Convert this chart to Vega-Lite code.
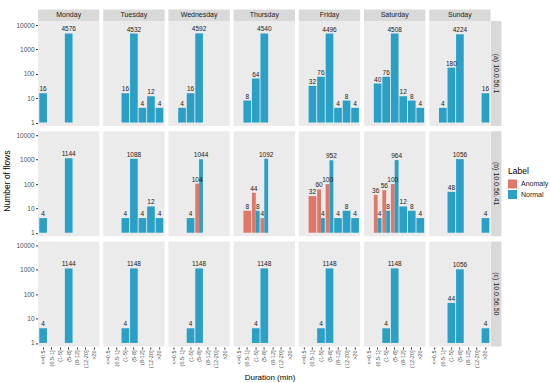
{
  "$schema": "https://vega.github.io/schema/vega-lite/v6.json",
  "padding": {"left": 2, "top": 9, "right": 2, "bottom": 0},
  "bounds": "flush",
  "spacing": {"row": 5.2, "column": 3.2},
  "data": {"values": [
    {"ip":"(a) 10.0.56.1","day":"Monday","dur":"<=0.5","label":"Normal","count":16},
    {"ip":"(a) 10.0.56.1","day":"Monday","dur":"(5-8]","label":"Normal","count":4576},
    {"ip":"(a) 10.0.56.1","day":"Tuesday","dur":"(1-5]","label":"Normal","count":16},
    {"ip":"(a) 10.0.56.1","day":"Tuesday","dur":"(5-8]","label":"Normal","count":4532},
    {"ip":"(a) 10.0.56.1","day":"Tuesday","dur":"(8-12]","label":"Normal","count":4},
    {"ip":"(a) 10.0.56.1","day":"Tuesday","dur":"(12-20]","label":"Normal","count":12},
    {"ip":"(a) 10.0.56.1","day":"Tuesday","dur":">20","label":"Normal","count":4},
    {"ip":"(a) 10.0.56.1","day":"Wednesday","dur":"(0.5-1]","label":"Normal","count":4},
    {"ip":"(a) 10.0.56.1","day":"Wednesday","dur":"(1-5]","label":"Normal","count":16},
    {"ip":"(a) 10.0.56.1","day":"Wednesday","dur":"(5-8]","label":"Normal","count":4592},
    {"ip":"(a) 10.0.56.1","day":"Thursday","dur":"(0.5-1]","label":"Normal","count":8},
    {"ip":"(a) 10.0.56.1","day":"Thursday","dur":"(1-5]","label":"Normal","count":64},
    {"ip":"(a) 10.0.56.1","day":"Thursday","dur":"(5-8]","label":"Normal","count":4540},
    {"ip":"(a) 10.0.56.1","day":"Friday","dur":"(0.5-1]","label":"Normal","count":32},
    {"ip":"(a) 10.0.56.1","day":"Friday","dur":"(1-5]","label":"Normal","count":76},
    {"ip":"(a) 10.0.56.1","day":"Friday","dur":"(5-8]","label":"Normal","count":4496},
    {"ip":"(a) 10.0.56.1","day":"Friday","dur":"(8-12]","label":"Normal","count":4},
    {"ip":"(a) 10.0.56.1","day":"Friday","dur":"(12-20]","label":"Normal","count":8},
    {"ip":"(a) 10.0.56.1","day":"Friday","dur":">20","label":"Normal","count":4},
    {"ip":"(a) 10.0.56.1","day":"Saturday","dur":"(0.5-1]","label":"Normal","count":40},
    {"ip":"(a) 10.0.56.1","day":"Saturday","dur":"(1-5]","label":"Normal","count":76},
    {"ip":"(a) 10.0.56.1","day":"Saturday","dur":"(5-8]","label":"Normal","count":4508},
    {"ip":"(a) 10.0.56.1","day":"Saturday","dur":"(8-12]","label":"Normal","count":12},
    {"ip":"(a) 10.0.56.1","day":"Saturday","dur":"(12-20]","label":"Normal","count":8},
    {"ip":"(a) 10.0.56.1","day":"Saturday","dur":">20","label":"Normal","count":4},
    {"ip":"(a) 10.0.56.1","day":"Sunday","dur":"(0.5-1]","label":"Normal","count":4},
    {"ip":"(a) 10.0.56.1","day":"Sunday","dur":"(1-5]","label":"Normal","count":180},
    {"ip":"(a) 10.0.56.1","day":"Sunday","dur":"(5-8]","label":"Normal","count":4224},
    {"ip":"(a) 10.0.56.1","day":"Sunday","dur":">20","label":"Normal","count":16},
    {"ip":"(b) 10.0.56.41","day":"Monday","dur":"<=0.5","label":"Normal","count":4},
    {"ip":"(b) 10.0.56.41","day":"Monday","dur":"(5-8]","label":"Normal","count":1144},
    {"ip":"(b) 10.0.56.41","day":"Tuesday","dur":"(1-5]","label":"Normal","count":4},
    {"ip":"(b) 10.0.56.41","day":"Tuesday","dur":"(5-8]","label":"Normal","count":1088},
    {"ip":"(b) 10.0.56.41","day":"Tuesday","dur":"(8-12]","label":"Normal","count":4},
    {"ip":"(b) 10.0.56.41","day":"Tuesday","dur":"(12-20]","label":"Normal","count":12},
    {"ip":"(b) 10.0.56.41","day":"Tuesday","dur":">20","label":"Normal","count":4},
    {"ip":"(b) 10.0.56.41","day":"Wednesday","dur":"(1-5]","label":"Normal","count":4},
    {"ip":"(b) 10.0.56.41","day":"Wednesday","dur":"(5-8]","label":"Anomaly","count":104},
    {"ip":"(b) 10.0.56.41","day":"Wednesday","dur":"(5-8]","label":"Normal","count":1044},
    {"ip":"(b) 10.0.56.41","day":"Thursday","dur":"(0.5-1]","label":"Anomaly","count":8},
    {"ip":"(b) 10.0.56.41","day":"Thursday","dur":"(1-5]","label":"Anomaly","count":44},
    {"ip":"(b) 10.0.56.41","day":"Thursday","dur":"(1-5]","label":"Normal","count":8},
    {"ip":"(b) 10.0.56.41","day":"Thursday","dur":"(5-8]","label":"Anomaly","count":4},
    {"ip":"(b) 10.0.56.41","day":"Thursday","dur":"(5-8]","label":"Normal","count":1092},
    {"ip":"(b) 10.0.56.41","day":"Friday","dur":"(0.5-1]","label":"Anomaly","count":32},
    {"ip":"(b) 10.0.56.41","day":"Friday","dur":"(1-5]","label":"Anomaly","count":60},
    {"ip":"(b) 10.0.56.41","day":"Friday","dur":"(1-5]","label":"Normal","count":4},
    {"ip":"(b) 10.0.56.41","day":"Friday","dur":"(5-8]","label":"Anomaly","count":100},
    {"ip":"(b) 10.0.56.41","day":"Friday","dur":"(5-8]","label":"Normal","count":952},
    {"ip":"(b) 10.0.56.41","day":"Friday","dur":"(8-12]","label":"Normal","count":4},
    {"ip":"(b) 10.0.56.41","day":"Friday","dur":"(12-20]","label":"Normal","count":8},
    {"ip":"(b) 10.0.56.41","day":"Friday","dur":">20","label":"Normal","count":4},
    {"ip":"(b) 10.0.56.41","day":"Saturday","dur":"(0.5-1]","label":"Anomaly","count":36},
    {"ip":"(b) 10.0.56.41","day":"Saturday","dur":"(0.5-1]","label":"Normal","count":4},
    {"ip":"(b) 10.0.56.41","day":"Saturday","dur":"(1-5]","label":"Anomaly","count":56},
    {"ip":"(b) 10.0.56.41","day":"Saturday","dur":"(1-5]","label":"Normal","count":8},
    {"ip":"(b) 10.0.56.41","day":"Saturday","dur":"(5-8]","label":"Anomaly","count":100},
    {"ip":"(b) 10.0.56.41","day":"Saturday","dur":"(5-8]","label":"Normal","count":964},
    {"ip":"(b) 10.0.56.41","day":"Saturday","dur":"(8-12]","label":"Normal","count":12},
    {"ip":"(b) 10.0.56.41","day":"Saturday","dur":"(12-20]","label":"Normal","count":8},
    {"ip":"(b) 10.0.56.41","day":"Saturday","dur":">20","label":"Normal","count":4},
    {"ip":"(b) 10.0.56.41","day":"Sunday","dur":"(1-5]","label":"Normal","count":48},
    {"ip":"(b) 10.0.56.41","day":"Sunday","dur":"(5-8]","label":"Normal","count":1056},
    {"ip":"(b) 10.0.56.41","day":"Sunday","dur":">20","label":"Normal","count":4},
    {"ip":"(c) 10.0.56.50","day":"Monday","dur":"<=0.5","label":"Normal","count":4},
    {"ip":"(c) 10.0.56.50","day":"Monday","dur":"(5-8]","label":"Normal","count":1144},
    {"ip":"(c) 10.0.56.50","day":"Tuesday","dur":"(1-5]","label":"Normal","count":4},
    {"ip":"(c) 10.0.56.50","day":"Tuesday","dur":"(5-8]","label":"Normal","count":1148},
    {"ip":"(c) 10.0.56.50","day":"Wednesday","dur":"(1-5]","label":"Normal","count":4},
    {"ip":"(c) 10.0.56.50","day":"Wednesday","dur":"(5-8]","label":"Normal","count":1148},
    {"ip":"(c) 10.0.56.50","day":"Thursday","dur":"(1-5]","label":"Normal","count":4},
    {"ip":"(c) 10.0.56.50","day":"Thursday","dur":"(5-8]","label":"Normal","count":1148},
    {"ip":"(c) 10.0.56.50","day":"Friday","dur":"(1-5]","label":"Normal","count":4},
    {"ip":"(c) 10.0.56.50","day":"Friday","dur":"(5-8]","label":"Normal","count":1148},
    {"ip":"(c) 10.0.56.50","day":"Saturday","dur":"(1-5]","label":"Normal","count":4},
    {"ip":"(c) 10.0.56.50","day":"Saturday","dur":"(5-8]","label":"Normal","count":1148},
    {"ip":"(c) 10.0.56.50","day":"Sunday","dur":"(1-5]","label":"Normal","count":44},
    {"ip":"(c) 10.0.56.50","day":"Sunday","dur":"(5-8]","label":"Normal","count":1056},
    {"ip":"(c) 10.0.56.50","day":"Sunday","dur":">20","label":"Normal","count":4}
  ]},
  "transform": [{"joinaggregate": [{"op": "count", "as": "n"}], "groupby": ["ip", "day", "dur"]}],
  "facet": {
    "row": {"field": "ip", "type": "nominal", "title": "Number of flows",
      "header": {"labels": false, "titleOrient": "left", "titleFontSize": 8.5, "titleFontWeight": "normal", "titleColor": "#000000", "titlePadding": -6}},
    "column": {"field": "day", "type": "nominal", "title": "Duration (min)",
      "header": {"labels": false, "titleOrient": "bottom", "titleFontSize": 8, "titleFontWeight": "normal", "titleColor": "#000000", "titlePadding": -4},
      "sort": ["Monday", "Tuesday", "Wednesday", "Thursday", "Friday", "Saturday", "Sunday"]}
  },
  "spec": {
    "width": 61.4,
    "height": 105,
    "layer": [
      {
        "transform": [{"filter": "indexof(datum.ip, '(a)') == 0"}, {"aggregate": [{"op": "count", "as": "k"}], "groupby": ["ip", "day"]}],
        "mark": {"type": "bar", "color": "#D9D9D9", "width": {"band": 8}},
        "encoding": {
          "x": {"datum": "(5-8]", "type": "nominal", "title": null},
          "y": {"datum": 14800, "type": "quantitative", "title": null},
          "y2": {"datum": 44260}
        }
      },
      {
        "transform": [{"filter": "indexof(datum.ip, '(a)') == 0"}, {"aggregate": [{"op": "count", "as": "k"}], "groupby": ["ip", "day"]}],
        "mark": {"type": "text", "fontSize": 7, "color": "#1A1A1A", "baseline": "middle"},
        "encoding": {
          "x": {"datum": "(5-8]", "type": "nominal", "title": null},
          "y": {"datum": 25590, "type": "quantitative", "title": null},
          "text": {"field": "day"}
        }
      },
      {
        "transform": [{"filter": "datum.day == 'Sunday'"}, {"aggregate": [{"op": "count", "as": "k"}], "groupby": ["ip", "day"]}],
        "mark": {"type": "rule", "color": "#D9D9D9", "strokeWidth": 10.5},
        "encoding": {
          "x": {"datum": ">20", "type": "nominal", "bandPosition": 1.9, "title": null},
          "y": {"datum": 0.72, "type": "quantitative", "title": null},
          "y2": {"datum": 14800}
        }
      },
      {
        "transform": [{"filter": "datum.day == 'Sunday'"}, {"aggregate": [{"op": "count", "as": "k"}], "groupby": ["ip", "day"]}],
        "mark": {"type": "text", "fontSize": 7, "color": "#1A1A1A", "angle": 90, "baseline": "middle", "align": "center"},
        "encoding": {
          "x": {"datum": ">20", "type": "nominal", "bandPosition": 1.9, "title": null},
          "y": {"datum": 103.5, "type": "quantitative", "title": null},
          "text": {"field": "ip"}
        }
      },
      {
        "transform": [{"filter": "datum.n == 1"}],
        "mark": {"type": "bar", "opacity": 1},
        "encoding": {
          "x": {"field": "dur", "type": "nominal", "title": null,
            "scale": {"domain": ["<=0.5", "(0.5-1]", "(1-5]", "(5-8]", "(8-12]", "(12-20]", ">20"], "paddingInner": 0.1, "paddingOuter": 0.15},
            "axis": {"labelAngle": 270, "bandPosition": 0.5, "tickSize": 2, "labelFontSize": 5.5, "labelPadding": 1, "gridWidth": 1}},
          "y": {"field": "count", "type": "quantitative", "title": null,
            "scale": {"type": "log", "domain": [0.72, 14800], "nice": false},
            "axis": {"values": [1, 3.1623, 10, 31.623, 100, 316.23, 1000, 3162.3, 10000], "format": "d",
              "labelExpr": "(datum.value == 1 || datum.value == 10 || datum.value == 100 || datum.value == 1000 || datum.value == 10000) ? datum.label : ''",
              "gridWidth": {"condition": {"test": "datum.value == 1 || datum.value == 10 || datum.value == 100 || datum.value == 1000 || datum.value == 10000", "value": 1}, "value": 0.5},
              "tickOpacity": {"condition": {"test": "datum.value == 1 || datum.value == 10 || datum.value == 100 || datum.value == 1000 || datum.value == 10000", "value": 1}, "value": 0},
              "tickSize": 2.5, "labelFontSize": 6.5, "labelPadding": 1.5}},
          "y2": {"datum": 1},
          "color": {"field": "label", "type": "nominal", "title": "Label",
            "scale": {"domain": ["Anomaly", "Normal"], "range": ["#E0786A", "#2AA0C6"]}}
        }
      },
      {
        "transform": [{"filter": "datum.n == 2"}],
        "mark": {"type": "bar", "opacity": 1},
        "encoding": {
          "x": {"field": "dur", "type": "nominal", "title": null},
          "xOffset": {"field": "label", "type": "nominal", "scale": {"domain": ["Anomaly", "Normal"]}},
          "y": {"field": "count", "type": "quantitative", "title": null},
          "y2": {"datum": 1},
          "color": {"field": "label", "type": "nominal", "title": "Label"}
        }
      },
      {
        "transform": [{"filter": "datum.n == 1"}],
        "mark": {"type": "text", "fontSize": 6.5, "color": "#1A1A1A", "baseline": "bottom", "dy": -1},
        "encoding": {
          "x": {"field": "dur", "type": "nominal", "title": null},
          "y": {"field": "count", "type": "quantitative", "title": null},
          "text": {"field": "count", "type": "quantitative"}
        }
      },
      {
        "transform": [{"filter": "datum.n == 2"}],
        "mark": {"type": "text", "fontSize": 6.5, "color": "#1A1A1A", "baseline": "bottom", "dy": -1},
        "encoding": {
          "x": {"field": "dur", "type": "nominal", "title": null},
          "xOffset": {"field": "label", "type": "nominal"},
          "y": {"field": "count", "type": "quantitative", "title": null},
          "text": {"field": "count", "type": "quantitative"}
        }
      }
    ]
  },
  "config": {
    "font": "Liberation Sans",
    "view": {"fill": "#EBEBEB", "stroke": null},
    "axis": {"domain": false, "gridColor": "#FFFFFF", "tickColor": "#333333", "labelColor": "#4D4D4D", "titleColor": "#000000", "titleFontWeight": "normal"},
    "legend": {"orient": "none", "legendX": 470, "legendY": 146, "symbolType": "square", "symbolSize": 81, "symbolStrokeWidth": 0, "titleFontSize": 8.5, "titleFontWeight": "normal", "titleColor": "#000000", "labelFontSize": 7, "labelColor": "#1A1A1A", "rowPadding": 1.5, "titlePadding": 4}
  }
}
